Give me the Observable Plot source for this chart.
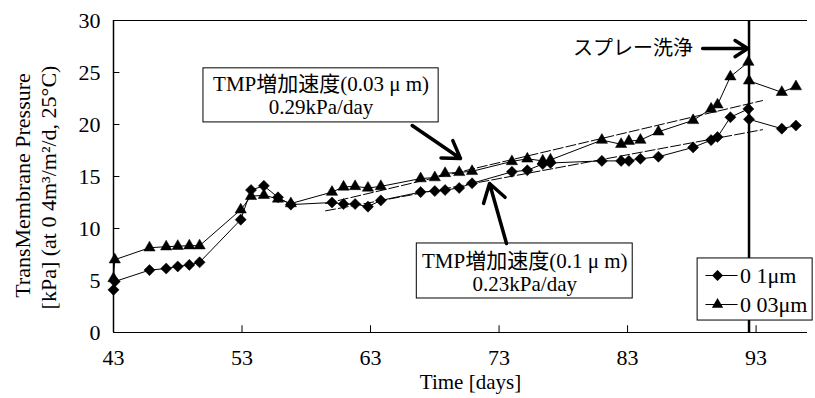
<!DOCTYPE html>
<html><head><meta charset="utf-8">
<script src="https://cdn.jsdelivr.net/npm/d3@7"></script>
<script src="https://cdn.jsdelivr.net/npm/@observablehq/plot@0.6"></script>
<style>body{margin:0;background:#fff}</style>
</head><body><div id="chart"></div>
<script>
// ---- data ----
const seriesNames = ["0 1μm", "0 03μm"];
const days01 = [43, 43.1, 45.8, 47.1, 48.0, 48.9, 49.7, 52.9, 53.7, 54.7, 55.8, 56.8, 60.0, 60.9, 61.8, 62.8, 63.8, 66.9, 68.0, 68.8, 69.9, 70.9, 74.0, 75.2, 76.4, 77.0, 81.0, 82.5, 83.1, 84.0, 85.4, 88.1, 89.5, 90.0, 91.0, 92.4, 92.45, 95.0, 96.1];
const tmp01  = [4.1, 4.9, 6.0, 6.15, 6.35, 6.5, 6.75, 10.85, 13.7, 14.1, 13.0, 12.3, 12.5, 12.35, 12.35, 12.1, 12.7, 13.5, 13.6, 13.7, 13.9, 14.35, 15.45, 15.6, 16.2, 16.3, 16.5, 16.5, 16.5, 16.7, 16.9, 17.8, 18.5, 18.8, 20.7, 21.5, 20.5, 19.6, 19.9];
const days003 = [43, 43.1, 45.8, 47.1, 48.0, 48.9, 49.7, 52.9, 53.7, 54.7, 55.8, 56.8, 60.0, 60.9, 61.8, 62.8, 63.8, 66.9, 68.0, 68.8, 69.9, 70.9, 74.0, 75.2, 76.4, 77.0, 81.0, 82.5, 83.1, 84.0, 85.4, 88.1, 89.5, 90.0, 91.0, 92.4, 92.45, 95.0, 96.1];
const tmp003  = [5.2, 7.0, 8.15, 8.25, 8.3, 8.35, 8.35, 11.8, 13.1, 13.2, 12.85, 12.4, 13.5, 14.0, 14.05, 13.9, 14.05, 14.8, 14.9, 15.3, 15.4, 15.5, 16.45, 16.7, 16.5, 16.6, 18.5, 18.1, 18.4, 18.5, 19.3, 20.4, 21.5, 21.9, 24.6, 26.0, 24.2, 23.1, 23.65];
const trendDays = [59.5, 93.5];
const trend01  = [11.7, 19.5];
const trend003 = [12.4, 22.3];
const washDay = 92.45;
const xTicks = [43, 53, 63, 73, 83, 93];
const yTicks = [0, 5, 10, 15, 20, 25, 30];
const note003 = "TMP増加速度(0.03 μ m)\n0.29kPa/day";
const note01  = "TMP増加速度(0.1 μ m)\n0.23kPa/day";
const washLabel = "スプレー洗浄";
const xLabel = "Time [days]";
const yLabel1 = "TransMembrane Pressure";
const yLabel2 = "[kPa] (at 0 4m³/m²/d, 25°C)";

// ---- annotation layout (data coordinates) ----
const boxes = [
  {x1: 50.0, x2: 68.3, y1: 20.2, y2: 25.4, text: note003, tx: 59.15, ty: 22.84},
  {x1: 66.6, x2: 83.4, y1: 3.27, y2: 8.56, text: note01, tx: 75.0, ty: 5.82}
];
const arrows = [
  {x1: 66.24, y1: 19.9, x2: 70.0, y2: 16.73},
  {x1: 73.58, y1: 8.56, x2: 72.26, y2: 14.33}
];
const washArrow = [{x1: 88.84, y1: 27.3, x2: 92.35, y2: 27.3}];
const legendBox = [{x1: 88.45, x2: 97.4, y1: 1.15, y2: 7.12}];
const legendItems = [
  {name: seriesNames[0], y: 5.48},
  {name: seriesNames[1], y: 2.69}
];

const pts01 = days01.map((d, i) => ({day: d, tmp: tmp01[i]}));
const pts003 = days003.map((d, i) => ({day: d, tmp: tmp003[i]}));
const trends = [
  ...trendDays.map((d, i) => ({s: "a", day: d, tmp: trend01[i]})),
  ...trendDays.map((d, i) => ({s: "b", day: d, tmp: trend003[i]}))
];

const serif = "'Liberation Serif', 'Times New Roman', 'Noto Sans CJK JP', serif";

const chart = Plot.plot({
  width: 815, height: 398,
  marginLeft: 113, marginRight: 8, marginTop: 20, marginBottom: 66,
  x: {domain: [43, 97]},
  y: {domain: [0, 30]},
  style: {fontFamily: serif, background: "white", color: "black"},
  marks: [
    Plot.ruleY([30], {stroke: "black", strokeWidth: 1}),
    Plot.ruleY([0], {stroke: "black", strokeWidth: 1.2}),
    Plot.ruleX([43], {stroke: "black", strokeWidth: 1.5}),
    Plot.ruleX(xTicks, {x: d => d, y1: 0, y2: 0.65, stroke: "black"}),
    Plot.ruleY(yTicks, {y: d => d, x1: 43, x2: 43.5, stroke: "black"}),
    Plot.axisX(xTicks, {tickSize: 0, tickPadding: 17, fontSize: 22, label: null}),
    Plot.axisY(yTicks, {tickSize: 0, tickPadding: 13, fontSize: 22, label: null}),
    Plot.line(trends, {x: "day", y: "tmp", z: "s", stroke: "black", strokeWidth: 1, strokeDasharray: "10,3"}),
    Plot.line(pts01, {x: "day", y: "tmp", stroke: "black", strokeWidth: 1}),
    Plot.line(pts003, {x: "day", y: "tmp", stroke: "black", strokeWidth: 1}),
    Plot.dot(pts01, {x: "day", y: "tmp", symbol: "diamond2", r: 5, fill: "black", stroke: "black", strokeWidth: 0.5}),
    Plot.dot(pts003, {x: "day", y: "tmp", symbol: "triangle", r: 4.2, fill: "black", stroke: "black", strokeWidth: 0.5}),
    Plot.ruleX([washDay], {stroke: "black", strokeWidth: 2.5}),
    Plot.rect(boxes, {x1: "x1", x2: "x2", y1: "y1", y2: "y2", fill: "white", stroke: "black", strokeWidth: 1}),
    Plot.text(boxes, {x: "tx", y: "ty", text: "text", fontSize: 21, lineHeight: 1.1, fill: "black"}),
    Plot.arrow(arrows, {x1: "x1", y1: "y1", x2: "x2", y2: "y2", stroke: "black", strokeWidth: 3.5, headLength: 16, headAngle: 65}),
    Plot.arrow(washArrow, {x1: "x1", y1: "y1", x2: "x2", y2: "y2", stroke: "black", strokeWidth: 3.5, headLength: 20, headAngle: 65}),
    Plot.text([washLabel], {x: 88.1, y: 27.3, text: d => d, textAnchor: "end", fontSize: 20, fontFamily: "'Noto Sans CJK JP', sans-serif", fill: "black"}),
    Plot.rect(legendBox, {x1: "x1", x2: "x2", y1: "y1", y2: "y2", fill: "white", stroke: "black", strokeWidth: 1}),
    Plot.ruleY(legendItems, {y: "y", x1: 89.1, x2: 91.6, stroke: "black", strokeWidth: 1}),
    Plot.dot(legendItems.slice(0, 1), {x: 90.0, y: "y", symbol: "diamond2", r: 5, fill: "black"}),
    Plot.dot(legendItems.slice(1), {x: 90.0, y: "y", symbol: "triangle", r: 4.2, fill: "black"}),
    Plot.text(legendItems, {x: 91.75, y: "y", text: "name", textAnchor: "start", fontSize: 22, fill: "black"}),
    Plot.text([yLabel1], {frameAnchor: "left", textAnchor: "middle", dx: -91, dy: 9, rotate: -90, text: d => d, fontSize: 22, fill: "black"}),
    Plot.text([yLabel2], {frameAnchor: "left", textAnchor: "middle", dx: -65, dy: 11, rotate: -90, text: d => d, fontSize: 22, fill: "black"}),
    Plot.text([xLabel], {frameAnchor: "bottom", textAnchor: "middle", dx: 10, dy: 56, text: d => d, fontSize: 21, fill: "black"})
  ]
});
document.getElementById("chart").appendChild(chart);
</script>
</body></html>
